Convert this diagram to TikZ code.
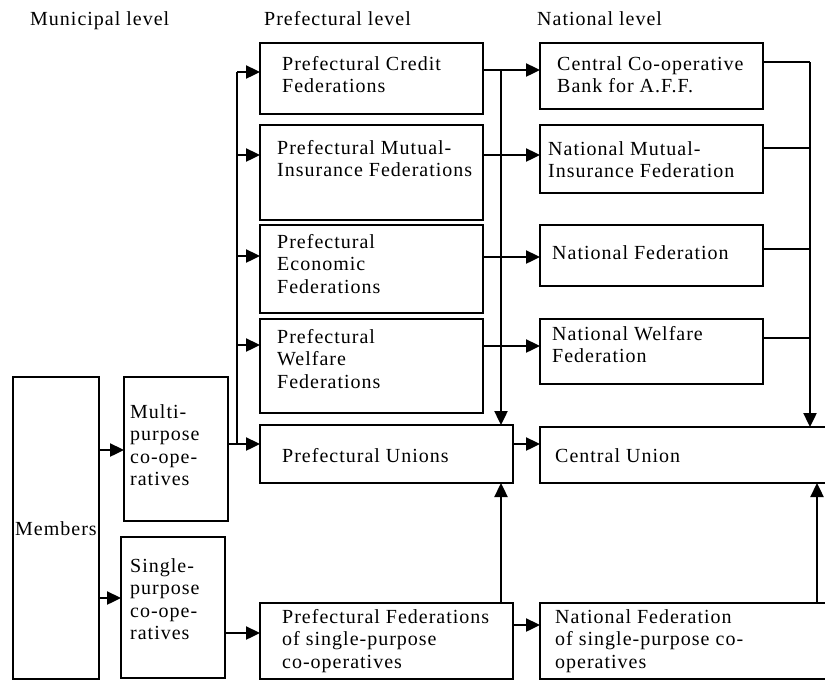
\documentclass[tikz,border=0pt]{standalone}
\usepackage{fontspec}
\setmainfont{Liberation Serif}[LetterSpace=5]
\usetikzlibrary{arrows.meta}
% multi-line text whose reference point is the first baseline
\newcommand\lns[1]{\begin{tabular}[t]{@{}l@{}}#1\end{tabular}}

\begin{document}
\begin{tikzpicture}[x=1pt,y=-1pt,
  box/.style={draw, line width=2.4pt, inner sep=0pt, outer sep=0pt, anchor=north west},
  txt/.style={anchor=base west, inner sep=0pt, font=\fontsize{20}{22.5}\selectfont},
  link/.style={line width=2.4pt},
  arr/.style={line width=2.4pt, -{Triangle[length=14pt,width=13pt]}}]
\useasboundingbox (0,0) rectangle (825,681);

% level headings
\node[txt] (hmun) at (30,25) {Municipal level};
\node[txt] (hpre) at (264,25) {Prefectural level};
\node[txt] (hnat) at (537,25) {National level};

% municipal level
\node[box, minimum width=86pt, minimum height=302pt] (members) at (13,377) {};
\node[txt] (members-t) at (15,535) {Members};
\node[box, minimum width=104pt, minimum height=144pt] (multi) at (124,377) {};
\node[txt] (multi-t) at (130,418) {\lns{Multi-\\purpose\\co-ope-\\ratives}};
\node[box, minimum width=104pt, minimum height=141pt] (single) at (121,537) {};
\node[txt] (single-t) at (130,572) {\lns{Single-\\purpose\\co-ope-\\ratives}};

% prefectural level
\node[box, minimum width=223pt, minimum height=71pt] (credit) at (260,43) {};
\node[txt] (credit-t) at (282,70) {\lns{Prefectural Credit\\Federations}};
\node[box, minimum width=223pt, minimum height=95pt] (mutual) at (260,125) {};
\node[txt] (mutual-t) at (277,154) {\lns{Prefectural Mutual-\\Insurance Federations}};
\node[box, minimum width=223pt, minimum height=88pt] (econ) at (260,225) {};
\node[txt] (econ-t) at (277,248) {\lns{Prefectural\\Economic\\Federations}};
\node[box, minimum width=223pt, minimum height=94pt] (welf) at (260,319) {};
\node[txt] (welf-t) at (277,343) {\lns{Prefectural\\Welfare\\Federations}};
\node[box, minimum width=253pt, minimum height=58pt] (unions) at (260,425) {};
\node[txt] (unions-t) at (282,462) {Prefectural Unions};
\node[box, minimum width=253pt, minimum height=76pt] (pfs) at (260,603) {};
\node[txt] (pfs-t) at (282,623) {\lns{Prefectural Federations\\of single-purpose\\co-operatives}};

% national level
\node[box, minimum width=223pt, minimum height=66pt] (bank) at (540,43) {};
\node[txt] (bank-t) at (557,70) {\lns{Central Co-operative\\Bank for A.F.F.}};
\node[box, minimum width=223pt, minimum height=68pt] (nmut) at (540,125) {};
\node[txt] (nmut-t) at (548,155) {\lns{National Mutual-\\Insurance Federation}};
\node[box, minimum width=223pt, minimum height=61pt] (nfed) at (540,225) {};
\node[txt] (nfed-t) at (552,259) {National Federation};
\node[box, minimum width=223pt, minimum height=65pt] (nwelf) at (540,319) {};
\node[txt] (nwelf-t) at (552,340) {\lns{National Welfare\\Federation}};
\node[box, minimum width=320pt, minimum height=56pt] (central) at (540,427) {};
\node[txt] (central-t) at (555,462) {Central Union};
\node[box, minimum width=320pt, minimum height=76pt] (nfs) at (540,603) {};
\node[txt] (nfs-t) at (555,623) {\lns{National Federation\\of single-purpose co-\\operatives}};

% bus lines and connector heights
\coordinate (busL) at (237,0);
\coordinate (busM) at (501,0);
\coordinate (busR) at (810,0);
\coordinate (busR2) at (817,0);
\coordinate (yCr) at (0,72);
\coordinate (yMu) at (0,155);
\coordinate (yEc) at (0,256);
\coordinate (yWe) at (0,345);
\coordinate (yUn) at (0,444);
\coordinate (yP1) at (0,70);
\coordinate (yP2) at (0,155);
\coordinate (yP3) at (0,257);
\coordinate (yP4) at (0,346);
\coordinate (yN1) at (0,62);
\coordinate (yN2) at (0,148);
\coordinate (yN3) at (0,249);
\coordinate (yN4) at (0,338);
\coordinate (yM1) at (0,450);
\coordinate (yM2) at (0,598);
\coordinate (yS1) at (0,633);
\coordinate (yS2) at (0,625);

% members to co-operatives
\draw[arr] (members.east |- yM1) -- (multi.west |- yM1);
\draw[arr] (members.east |- yM2) -- (single.west |- yM2);
\draw[arr] (single.east |- yS1) -- (pfs.west |- yS1);

% multi-purpose co-operatives to the prefectural bodies
\draw[link] (multi.east |- yUn) -| (busL |- yCr);
\draw[arr] (busL |- yCr) -- (credit.west |- yCr);
\draw[arr] (busL |- yMu) -- (mutual.west |- yMu);
\draw[arr] (busL |- yEc) -- (econ.west |- yEc);
\draw[arr] (busL |- yWe) -- (welf.west |- yWe);
\draw[arr] (busL |- yUn) -- (unions.west |- yUn);

% prefectural to national
\draw[arr] (credit.east |- yP1) -- (bank.west |- yP1);
\draw[arr] (mutual.east |- yP2) -- (nmut.west |- yP2);
\draw[arr] (econ.east |- yP3) -- (nfed.west |- yP3);
\draw[arr] (welf.east |- yP4) -- (nwelf.west |- yP4);
\draw[arr] (busM |- yP1) -- (busM |- unions.north);
\draw[arr] (unions.east |- yUn) -- (central.west |- yUn);
\draw[arr] (busM |- pfs.north) -- (busM |- unions.south);
\draw[arr] (pfs.east |- yS2) -- (nfs.west |- yS2);

% national federations to the Central Union
\draw[link] (bank.east |- yN1) -- (busR |- yN1);
\draw[link] (nmut.east |- yN2) -- (busR |- yN2);
\draw[link] (nfed.east |- yN3) -- (busR |- yN3);
\draw[link] (nwelf.east |- yN4) -- (busR |- yN4);
\draw[arr] (busR |- yN1) -- (busR |- central.north);
\draw[arr] (busR2 |- nfs.north) -- (busR2 |- central.south);
\end{tikzpicture}
\end{document}
